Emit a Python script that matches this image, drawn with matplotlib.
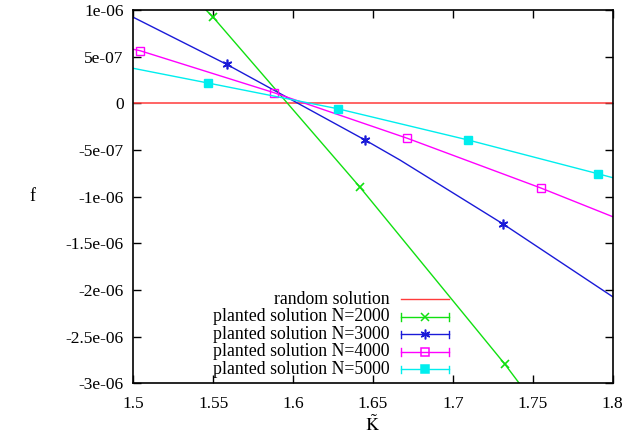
import matplotlib
matplotlib.use("Agg")
import matplotlib.pyplot as plt
from matplotlib.ticker import FixedLocator, FixedFormatter

plt.rcParams['font.family'] = ['Liberation Serif', 'DejaVu Serif']
plt.rcParams['mathtext.fontset'] = 'stix'

# values (f in units of 1e-6)
k_random = [1.5, 1.8]
f_random = [0.0, 0.0]

k_2000 = [1.5, 1.5455, 1.550, 1.6419, 1.7326, 1.7415, 1.8]
f_2000 = [1.86, 1.0, 0.922, -0.900, -2.797, -3.0, -4.26]
mark_2000 = [2, 3, 4]

k_3000 = [1.5, 1.5584, 1.645, 1.6669, 1.7315, 1.8]
f_3000 = [0.922, 0.418, -0.393, -0.608, -1.294, -2.073]
mark_3000 = [1, 2, 4]

k_4000 = [1.5, 1.5042, 1.588, 1.6715, 1.7551, 1.8]
f_4000 = [0.579, 0.564, 0.114, -0.375, -0.908, -1.215]
mark_4000 = [1, 2, 3, 4]

k_5000 = [1.5, 1.5466, 1.6279, 1.7095, 1.7908, 1.8]
f_5000 = [0.375, 0.218, -0.058, -0.393, -0.755, -0.797]
mark_5000 = [1, 2, 3, 4]

yticks = [1.0, 0.5, 0.0, -0.5, -1.0, -1.5, -2.0, -2.5, -3.0]
ylabels = ['1e-06', '5e-07', '0', '-5e-07', '-1e-06', '-1.5e-06', '-2e-06', '-2.5e-06', '-3e-06']
xticks = [1.5, 1.55, 1.6, 1.65, 1.7, 1.75, 1.8]
xlabels = ['1.5', '1.55', '1.6', '1.65', '1.7', '1.75', '1.8']

red = '#ff3b3b'
green = '#11e011'
blue = '#1a1ad8'
magenta = '#ff00ff'
cyan = '#00eeee'

fig = plt.figure(figsize=(6.26, 4.4), dpi=100)
ax = fig.add_axes([0.2129, 0.1289, 0.7659, 0.8484])

ax.plot(k_random, f_random, color=red, lw=1.1)
ax.plot(k_2000, f_2000, color=green, lw=1.0, marker='x', ms=6, mew=1.2, markevery=mark_2000)
ax.plot(k_3000, f_3000, color=blue, lw=1.0, marker=(6, 2, 0), ms=7, mew=1.2, markevery=mark_3000)
ax.plot(k_4000, f_4000, color=magenta, lw=1.0, marker='s', ms=6, mfc='none', mew=1.0, markevery=mark_4000)
ax.plot(k_5000, f_5000, color=cyan, lw=1.0, marker='s', ms=6, markevery=mark_5000)

ax.set_xlim(1.5, 1.8)
ax.set_ylim(-3.0, 1.0)
ax.xaxis.set_major_locator(FixedLocator(xticks))
ax.xaxis.set_major_formatter(FixedFormatter(xlabels))
ax.yaxis.set_major_locator(FixedLocator(yticks))
ax.yaxis.set_major_formatter(FixedFormatter(ylabels))
ax.tick_params(direction='in', top=True, right=True, length=6, width=1.0, labelsize=12.5)
ax.tick_params(axis='x', pad=9)
ax.tick_params(axis='y', pad=7)
for s in ax.spines.values():
    s.set_linewidth(1.2)

ax.set_xlabel(r'$\tilde{\mathrm{K}}$', fontsize=13, labelpad=2)
ax.set_ylabel('f', fontsize=13, rotation=0, labelpad=24, va='center')

# gnuplot-style key, bottom centre
entries = [('random solution', red, None, False),
           ('planted solution N=2000', green, 'x', True),
           ('planted solution N=3000', blue, (6, 2, 0), True),
           ('planted solution N=4000', magenta, 's', True),
           ('planted solution N=5000', cyan, 's', True)]
tr = ax.transAxes
x_text = 0.535
x0, x1 = 0.558, 0.659
for i, (lab, col, mk, caps) in enumerate(entries):
    y = 0.2249 - i * 0.0469
    ax.text(x_text, y, lab, transform=tr, ha='right', va='center', fontsize=12.8)
    ax.plot([x0, x1], [y, y], color=col, lw=1.0, transform=tr, clip_on=False)
    if caps:
        for xc in (x0, x1):
            ax.plot([xc, xc], [y - 0.01, y + 0.01], color=col, lw=1.0, transform=tr, clip_on=False)
    if mk is not None:
        filled = col if lab.endswith('5000') or mk != 's' else 'none'
        ax.plot([(x0 + x1) / 2], [y], color=col, marker=mk, ms=6 if mk != (6, 2, 0) else 7,
                mfc=filled, mew=1.1, transform=tr, clip_on=False)

fig.savefig('out.png', dpi=100)
